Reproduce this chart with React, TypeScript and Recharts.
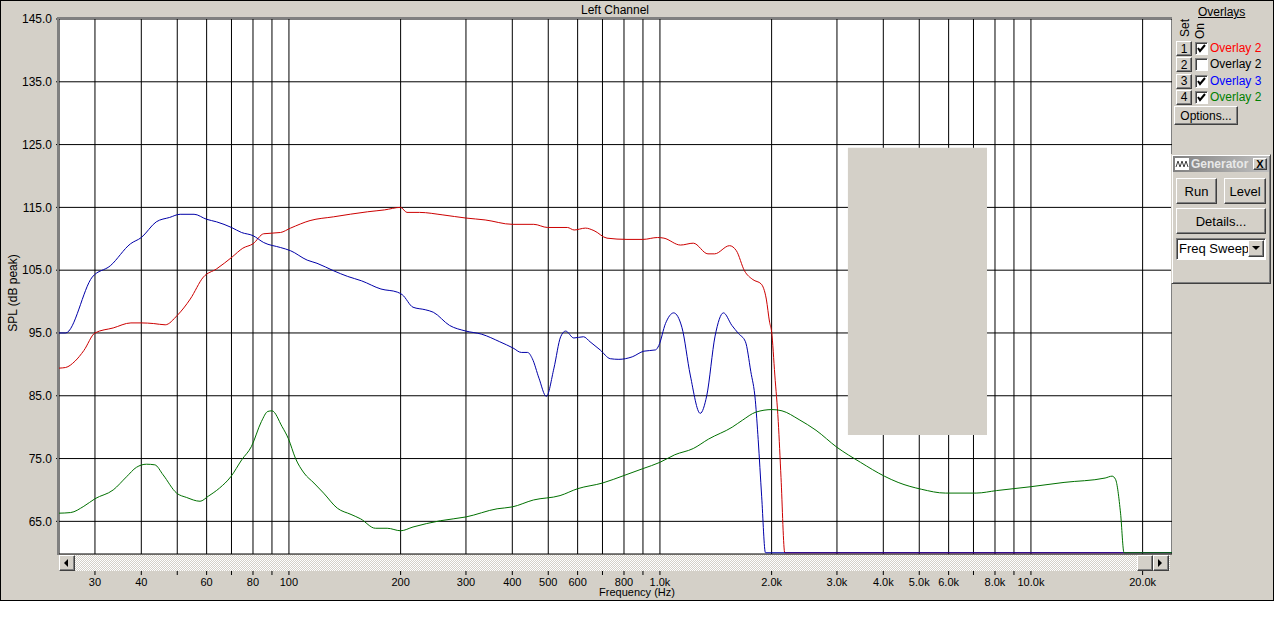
import { CartesianGrid, Line, LineChart, ReferenceArea, XAxis, YAxis } from "recharts";

// set 1 (red)
const redFreq = [24, 25, 26.5, 28, 30, 33.6, 37.5, 40, 43.2, 46.4, 50, 54.2, 58.8, 63.8, 70.3, 75.1, 80, 85.5, 94.9, 101, 114, 132, 163, 181, 200, 208, 225, 260, 300, 338, 400, 457, 498, 563, 587, 630, 664, 720, 815, 900, 985, 1025, 1136, 1230, 1347, 1404, 1540, 1607, 1690, 1780, 1875, 1935, 1975, 2000, 2040, 2084, 2120, 2170, 24000];
const redSpl = [89.4, 89.5, 90.5, 92.2, 95.0, 95.8, 96.6, 96.6, 96.5, 96.3, 97.8, 100.4, 103.9, 105.2, 107.1, 108.5, 109.2, 110.8, 111.0, 111.7, 112.9, 113.5, 114.3, 114.6, 115.0, 114.2, 114.2, 113.8, 113.3, 113.0, 112.3, 112.3, 111.8, 111.8, 111.4, 111.7, 111.3, 110.1, 109.9, 109.9, 110.2, 110.1, 109.0, 109.3, 107.6, 107.6, 108.9, 108.1, 104.9, 103.5, 102.8, 100.4, 96.7, 95.2, 88.3, 80.9, 72.0, 60, 60];

// set 3 (blue)
const blueFreq = [24, 25, 29.5, 33, 37.4, 40, 43.9, 47.7, 50.9, 55.5, 60, 63.8, 70, 74.5, 80, 85.5, 95, 101, 112, 119, 132, 144, 157, 177, 196, 202, 216, 233, 245, 271, 300, 331, 370, 402, 423, 440, 453, 472, 494, 518, 540, 557, 586, 622, 648, 690, 735, 775, 842, 905, 973, 993, 1035, 1089, 1146, 1207, 1284, 1337, 1408, 1483, 1563, 1629, 1700, 1757, 1808, 1840, 1880, 1925, 24000];
const blueSpl = [95.0, 95.0, 103.9, 105.7, 109.2, 110.2, 112.7, 113.4, 113.9, 113.9, 113.1, 112.7, 111.8, 111.0, 110.5, 109.4, 108.6, 108.1, 106.6, 106.1, 104.9, 104.0, 103.3, 102.0, 101.5, 101.1, 99.1, 98.7, 98.3, 96.2, 95.3, 94.8, 93.6, 92.6, 91.9, 91.9, 90.9, 87.8, 84.9, 89.4, 94.4, 95.3, 94.2, 94.4, 93.6, 92.3, 90.9, 90.8, 91.2, 92.1, 92.3, 93.0, 96.5, 98.2, 95.9, 88.3, 82.2, 85.0, 94.5, 98.2, 96.2, 94.9, 93.6, 88.9, 84.2, 78.0, 69.0, 60, 60];

// set 4 (green)
const greenFreq = [24, 25.8, 28, 30, 33.6, 36.5, 38.8, 41.3, 43.5, 45.8, 49.8, 53, 57.6, 60.6, 65, 69.7, 74.6, 79.2, 84.3, 87.7, 90, 95.8, 99.6, 104.2, 109.8, 116.8, 124, 135, 147, 156, 171, 184, 200, 216, 256, 300, 364, 400, 456, 538, 600, 700, 800, 900, 1000, 1096, 1230, 1352, 1566, 1668, 1815, 2005, 2133, 2372, 2635, 2999, 3472, 4025, 4385, 5076, 5882, 7117, 8077, 9945, 12280, 15850, 16550, 16900, 17440, 17820, 24000];
const greenSpl = [66.3, 66.4, 67.4, 68.6, 70.0, 72.1, 73.6, 74.1, 74.0, 72.4, 69.5, 68.8, 68.2, 69.0, 70.3, 72.1, 74.8, 76.9, 80.9, 82.5, 82.6, 80.1, 78.2, 75.0, 72.7, 71.1, 69.5, 67.1, 66.1, 65.4, 63.9, 63.9, 63.5, 64.1, 65.1, 65.7, 67.0, 67.3, 68.4, 69.1, 70.2, 71.1, 72.3, 73.4, 74.4, 75.6, 76.6, 78.1, 80.0, 81.1, 82.4, 82.8, 82.6, 81.2, 79.5, 76.8, 74.4, 72.2, 71.2, 70.1, 69.5, 69.5, 69.9, 70.5, 71.2, 71.9, 72.2, 71.7, 66.3, 60, 60];

const gridFreqs = [30, 40, 50, 60, 70, 80, 90, 100, 200, 300, 400, 500, 600, 700, 800, 900, 1000, 2000, 3000, 4000, 5000, 6000, 7000, 8000, 9000, 10000, 20000];
const unlabeledFreqs = [50, 70, 90, 700, 900, 7000, 9000];
const splTicks = [65, 75, 85, 95, 105, 115, 125, 135, 145];

const overlayNames = ["Overlay 2", "Overlay 2", "Overlay 3", "Overlay 2"];
const overlayColors = ["#ff0000", "#000000", "#0000ff", "#008000"];
const overlayOn = [true, false, true, true];

// the generator popup hides part of the plot
const hiddenFreq = [3211, 7613];
const hiddenSpl = [78.75, 124.5];

const GRAY = "#d4d0c8";
const FONT = "Arial, 'Liberation Sans', sans-serif";

const pairs = (f: number[], s: number[]) => f.map((freq, i) => ({ freq, spl: s[i] }));
const fmtFreq = (f: number) => (f >= 1000 ? (f / 1000).toFixed(1) + "k" : String(f));

function FreqTick(props: any) {
  const { x, y, payload } = props;
  const f = payload.value as number;
  const show = !unlabeledFreqs.includes(f);
  return (
    <g>
      <line x1={x} x2={x} y1={y + 17} y2={y + 21} stroke="#000" />
      {show && (
        <text x={x} y={y + 32} textAnchor="middle" fontSize={11} fontFamily={FONT} fill="#000">
          {fmtFreq(f)}
        </text>
      )}
    </g>
  );
}

const raised: React.CSSProperties = {
  position: "absolute",
  boxSizing: "border-box",
  background: GRAY,
  borderTop: "1px solid #fff",
  borderLeft: "1px solid #fff",
  borderRight: "1px solid #404040",
  borderBottom: "1px solid #404040",
  boxShadow: "inset -1px -1px 0 #808080",
  fontFamily: FONT,
  fontSize: 12,
  color: "#000",
  display: "flex",
  alignItems: "center",
  justifyContent: "center",
};

const sunken: React.CSSProperties = {
  position: "absolute",
  boxSizing: "border-box",
  background: "#fff",
  borderTop: "1px solid #808080",
  borderLeft: "1px solid #808080",
  borderRight: "1px solid #fff",
  borderBottom: "1px solid #fff",
  boxShadow: "inset 1px 1px 0 #404040",
};

function Arrow({ dir }: { dir: "left" | "right" | "down" }) {
  const pts = dir === "left" ? "6,2 2,6 6,10" : dir === "right" ? "2,2 6,6 2,10" : "1,3 9,3 5,7";
  return (
    <svg width={10} height={12}>
      <polygon points={pts} fill="#000" />
    </svg>
  );
}

export default function App() {
  return (
    <div style={{ position: "absolute", left: 0, top: 0, width: 1274, height: 637, background: "#fff", overflow: "hidden" }}>
      <div style={{ position: "absolute", left: 0, top: 0, width: 1274, height: 601, boxSizing: "border-box", background: GRAY, border: "1px solid #000" }} />

      <div style={{ position: "absolute", left: 0, top: 0 }}>
        <LineChart width={1172} height={600} margin={{ top: 19, right: 0, bottom: 0, left: 0 }}>
          <CartesianGrid stroke="#000" fill="#fff" fillOpacity={1} />
          <XAxis
            dataKey="freq"
            type="number"
            scale="log"
            domain={[24, 24000]}
            allowDataOverflow
            ticks={gridFreqs}
            interval={0}
            height={46}
            tickSize={0}
            tickMargin={0}
            axisLine={false}
            tickLine={false}
            tick={<FreqTick />}
          />
          <YAxis
            type="number"
            domain={[59.8, 145]}
            allowDataOverflow
            ticks={splTicks}
            interval={0}
            width={59}
            axisLine={false}
            tickSize={3}
            tickMargin={4}
            tickLine={{ stroke: "#000" }}
            tick={{ fontSize: 12, fill: "#000", fontFamily: FONT }}
            tickFormatter={(v: number) => v.toFixed(1)}
          />
          <ReferenceArea x1={hiddenFreq[0]} x2={hiddenFreq[1]} y1={hiddenSpl[0]} y2={hiddenSpl[1]} fill={GRAY} fillOpacity={1} stroke="none" />
          <Line data={pairs(redFreq, redSpl)} dataKey="spl" type="monotone" stroke="#cc0000" strokeWidth={1} dot={false} isAnimationActive={false} />
          <Line data={pairs(blueFreq, blueSpl)} dataKey="spl" type="monotone" stroke="#0000a8" strokeWidth={1} dot={false} isAnimationActive={false} />
          <Line data={pairs(greenFreq, greenSpl)} dataKey="spl" type="monotone" stroke="#007000" strokeWidth={1} dot={false} isAnimationActive={false} />
        </LineChart>
      </div>

      {/* sunken plot frame */}
      <div style={{ position: "absolute", left: 57, top: 17, width: 1115, height: 538, boxSizing: "border-box", borderLeft: "2px solid #808080", borderTop: "2px solid #808080", pointerEvents: "none" }} />

      <div style={{ position: "absolute", left: 0, top: 3, width: 1230, textAlign: "center", fontFamily: FONT, fontSize: 12 }}>Left Channel</div>
      <div style={{ position: "absolute", left: 13, top: 293, transform: "translate(-50%, -50%) rotate(-90deg)", fontFamily: FONT, fontSize: 12, whiteSpace: "nowrap" }}>SPL (dB peak)</div>
      <div style={{ position: "absolute", left: 637, top: 586, transform: "translateX(-50%)", fontFamily: FONT, fontSize: 11, whiteSpace: "nowrap" }}>Frequency (Hz)</div>

      {/* scrollbar */}
      <div style={{ position: "absolute", left: 59, top: 555, width: 1111, height: 16, backgroundImage: "repeating-conic-gradient(#d4d0c8 0 25%, #ffffff 0 50%)", backgroundSize: "2px 2px" }} />
      <div style={{ ...raised, left: 59, top: 555, width: 16, height: 16 }}><Arrow dir="left" /></div>
      <div style={{ ...raised, left: 1137, top: 555, width: 16, height: 16 }} />
      <div style={{ ...raised, left: 1153, top: 555, width: 16, height: 16 }}><Arrow dir="right" /></div>

      {/* overlays panel */}
      <div style={{ position: "absolute", left: 1198, top: 5, fontFamily: FONT, fontSize: 12, textDecoration: "underline" }}>Overlays</div>
      <div style={{ position: "absolute", left: 1185, top: 28, transform: "translate(-50%, -50%) rotate(-90deg)", fontFamily: FONT, fontSize: 12 }}>Set</div>
      <div style={{ position: "absolute", left: 1200, top: 31, transform: "translate(-50%, -50%) rotate(-90deg)", fontFamily: FONT, fontSize: 12 }}>On</div>
      {overlayNames.map((name, i) => {
        const top = 41 + i * 16.3;
        return (
          <div key={i}>
            <div style={{ ...raised, left: 1176, top, width: 16, height: 15 }}>{i + 1}</div>
            <div style={{ ...sunken, left: 1195, top: top + 1, width: 13, height: 13 }}>
              {overlayOn[i] && (
                <svg width={11} height={11} style={{ position: "absolute", left: 0, top: 0 }}>
                  <polyline points="2,5 4,8 9,2" fill="none" stroke="#000" strokeWidth={2} />
                </svg>
              )}
            </div>
            <div style={{ position: "absolute", left: 1210, top: top, fontFamily: FONT, fontSize: 12, color: overlayColors[i], lineHeight: "15px" }}>{name}</div>
          </div>
        );
      })}
      <div style={{ ...raised, left: 1174, top: 106, width: 64, height: 19 }}>Options...</div>

      {/* generator window */}
      <div style={{ position: "absolute", left: 1171, top: 154, width: 100, height: 130, boxSizing: "border-box", borderTop: "1px solid #d4d0c8", borderLeft: "1px solid #d4d0c8", borderRight: "1px solid #404040", borderBottom: "1px solid #404040", boxShadow: "inset 1px 1px 0 #fff, inset -1px -1px 0 #808080" }} />
      <div style={{ position: "absolute", left: 1173, top: 156, width: 96, height: 16, background: "linear-gradient(to right, #808080, #c0c0c0)" }}>
        <svg width={14} height={12} style={{ position: "absolute", left: 2, top: 2 }}>
          <rect x={0} y={0} width={14} height={12} fill="#fff" />
          <polyline points="1,9 3,3 5,9 7,3 9,9 11,3 13,9" fill="none" stroke="#404040" strokeWidth={1} />
        </svg>
        <div style={{ position: "absolute", left: 18, top: 1, fontFamily: FONT, fontSize: 12, fontWeight: "bold", color: "#e8e8e8", whiteSpace: "nowrap" }}>Generator</div>
        <div style={{ ...raised, left: 80, top: 2, width: 14, height: 12, fontWeight: "bold", fontSize: 11 }}>X</div>
      </div>
      <div style={{ ...raised, left: 1176, top: 178, width: 41, height: 26, fontSize: 13 }}>Run</div>
      <div style={{ ...raised, left: 1224, top: 178, width: 42, height: 26, fontSize: 13 }}>Level</div>
      <div style={{ ...raised, left: 1176, top: 208, width: 90, height: 26, fontSize: 13 }}>Details...</div>
      <div style={{ ...sunken, left: 1176, top: 238, width: 90, height: 22 }}>
        <div style={{ position: "absolute", left: 2, top: 2, fontFamily: FONT, fontSize: 13, whiteSpace: "nowrap" }}>Freq Sweep</div>
        <div style={{ ...raised, left: 71, top: 1, width: 16, height: 17 }}><Arrow dir="down" /></div>
      </div>
    </div>
  );
}
